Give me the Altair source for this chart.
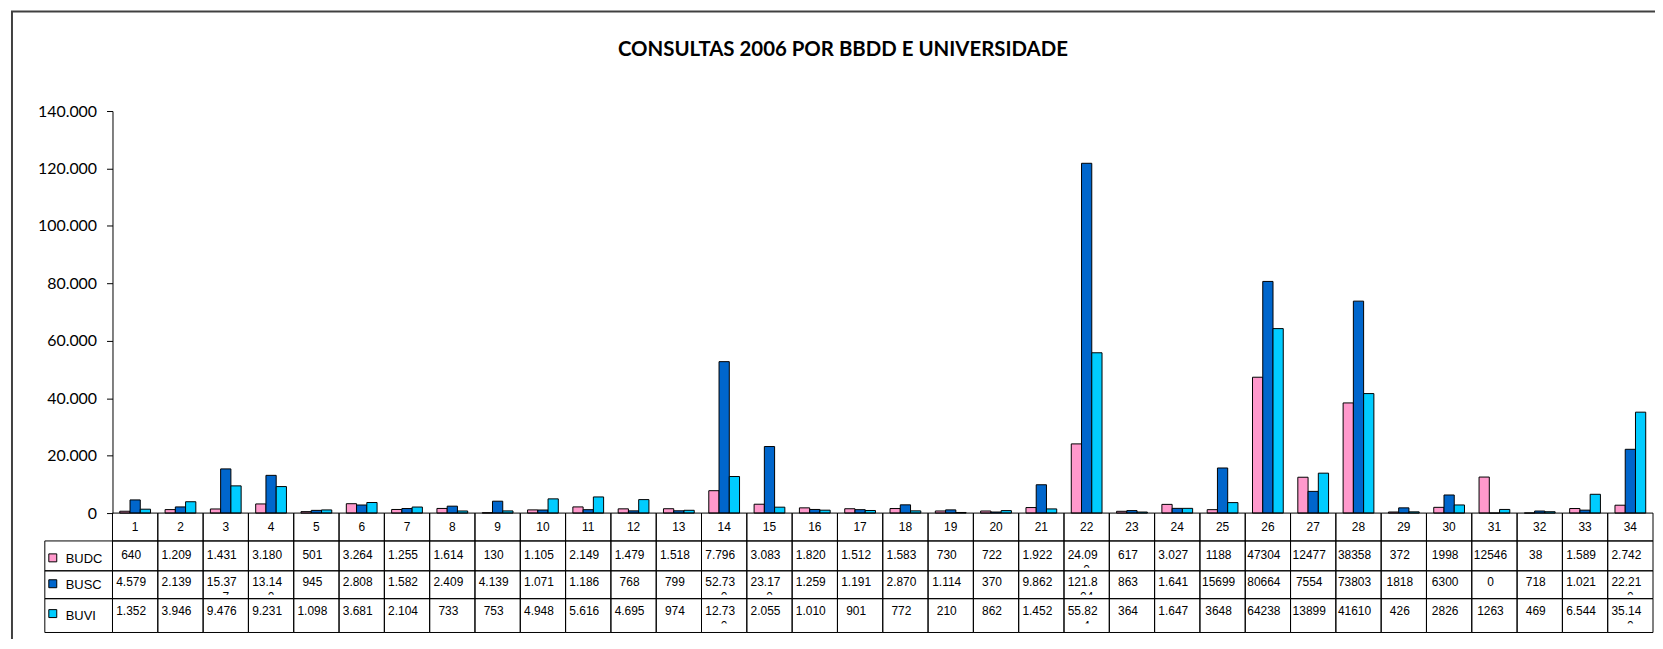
import altair as alt
import pandas as pd

# ---------------- data ----------------
categories = list(range(1, 35))
series_names = ["BUDC", "BUSC", "BUVI"]
budc = [640, 1209, 1431, 3180, 501, 3264, 1255, 1614, 130, 1105, 2149, 1479, 1518, 7796,
        3083, 1820, 1512, 1583, 730, 722, 1922, 24090, 617, 3027, 1188, 47304, 12477,
        38358, 372, 1998, 12546, 38, 1589, 2742]
busc = [4579, 2139, 15377, 13140, 945, 2808, 1582, 2409, 4139, 1071, 1186, 768, 799, 52730,
        23170, 1259, 1191, 2870, 1114, 370, 9862, 121804, 863, 1641, 15699, 80664, 7554,
        73803, 1818, 6300, 0, 718, 1021, 22210]
buvi = [1352, 3946, 9476, 9231, 1098, 3681, 2104, 733, 753, 4948, 5616, 4695, 974, 12730,
        2055, 1010, 901, 772, 210, 862, 1452, 55824, 364, 1647, 3648, 64238, 13899,
        41610, 426, 2826, 1263, 469, 6544, 35140]
plain_format_cats = [25, 26, 27, 28, 29, 30, 31]
colors = ["#FF99CC", "#0066CC", "#00CCFF"]
title_text = "CONSULTAS 2006 POR BBDD E UNIVERSIDADE"
y_ticks = [0, 20000, 40000, 60000, 80000, 100000, 120000, 140000]


def fmt(v, cat):
    if cat in plain_format_cats:
        return str(v)
    return f"{v:,}".replace(",", ".")


rows = []
for name, vals in zip(series_names, [budc, busc, buvi]):
    for c, v in zip(categories, vals):
        s = fmt(v, c)
        rows.append(dict(cat=c, series=name, value=v, line1=s[:5], line2=s[5:]))
df = pd.DataFrame(rows)
df_cats = pd.DataFrame({"cat": categories, "label": [str(c) for c in categories]})
df_leg = pd.DataFrame({"series": series_names})
df_one = pd.DataFrame({"k": [0]})

# ---------------- layout ----------------
W, H = 1548, 404
row_edges = {"BUDC": (432, 462), "BUSC": (462, 490), "BUVI": (490, 524)}
text_y = {"BUDC": 446.5, "BUSC": 473, "BUVI": 502}
leg_text_y = {"BUDC": 450, "BUSC": 476.5, "BUVI": 507}
leg_sq_y = {"BUDC": 449, "BUSC": 475, "BUVI": 505}
mask_y = {"BUDC": (459, 467), "BUSC": (486, 494), "BUVI": (515, 523)}
TFONT = "Liberation Sans"

xscale = alt.Scale(paddingInner=0, paddingOuter=0)
X_plain = alt.X("cat:O", sort=categories, scale=xscale, axis=None)

bars = alt.Chart(df).mark_bar(stroke="black", strokeWidth=1).encode(
    x=alt.X("cat:O", sort=categories, scale=xscale,
            axis=alt.Axis(labels=False, ticks=False, title=None, domainColor="black",
                          domainWidth=1, grid=False)),
    xOffset=alt.XOffset("series:N", sort=series_names,
                        scale=alt.Scale(paddingOuter=0.71, paddingInner=0)),
    y=alt.Y("value:Q", scale=alt.Scale(domain=[0, 140000], nice=False),
            axis=alt.Axis(values=y_ticks,
                          labelExpr="replace(format(datum.value, ','), ',', '.')",
                          grid=False, tickSize=6, tickColor="black", domainColor="black",
                          labelFont="Lato", labelFontSize=16, labelColor="black",
                          labelPadding=10, title=None)),
    color=alt.Color("series:N", scale=alt.Scale(domain=series_names, range=colors),
                    legend=None),
)

layers = [bars]

# second (clipped) lines of wrapped cell texts
for s in series_names:
    layers.append(
        alt.Chart(df).transform_filter(alt.datum.series == s).mark_text(
            font=TFONT, fontSize=12, color="black", align="center", baseline="middle"
        ).encode(x=X_plain, y=alt.value(text_y[s] + 15), text="line2:N")
    )

# masks that clip the second lines
for s in series_names:
    y0, y1 = mask_y[s]
    layers.append(
        alt.Chart(df_one).mark_rect(fill="white", stroke=None).encode(
            x=alt.value(0), x2=alt.value(W), y=alt.value(y0), y2=alt.value(y1))
    )

# table grid: category row + data rows
layers.append(
    alt.Chart(df_cats).mark_rect(fill="white", fillOpacity=0, stroke="black", strokeWidth=1)
    .encode(x=X_plain, y=alt.value(H), y2=alt.value(432))
)
for s in series_names:
    y0, y1 = row_edges[s]
    layers.append(
        alt.Chart(df_cats).mark_rect(fill="white", fillOpacity=0, stroke="black", strokeWidth=1)
        .encode(x=X_plain, y=alt.value(y0), y2=alt.value(y1))
    )
    layers.append(
        alt.Chart(df_one).mark_rect(fill="white", fillOpacity=0, stroke="black", strokeWidth=1)
        .encode(x=alt.value(-68), x2=alt.value(0), y=alt.value(y0), y2=alt.value(y1))
    )

# category labels
layers.append(
    alt.Chart(df_cats).mark_text(font=TFONT, fontSize=12, color="black", baseline="middle")
    .encode(x=X_plain, y=alt.value(418), text="label:N")
)

# first lines of cell texts
for s in series_names:
    layers.append(
        alt.Chart(df).transform_filter(alt.datum.series == s).mark_text(
            font=TFONT, fontSize=12, color="black", align="center", baseline="middle", dx=-4
        ).encode(x=X_plain, y=alt.value(text_y[s]), text="line1:N")
    )

# legend keys in table
for s in series_names:
    layers.append(
        alt.Chart(df_leg).transform_filter(alt.datum.series == s).mark_square(
            size=64, filled=True, opacity=1, stroke="black", strokeWidth=1
        ).encode(x=alt.value(-60), y=alt.value(leg_sq_y[s]),
                 color=alt.Color("series:N", legend=None))
    )
    layers.append(
        alt.Chart(df_leg).transform_filter(alt.datum.series == s).mark_text(
            font=TFONT, fontSize=13, color="black", align="left", baseline="middle"
        ).encode(x=alt.value(-47), y=alt.value(leg_text_y[s]), text="series:N")
    )

# title
layers.append(
    alt.Chart(df_one).mark_text(font="Lato", fontWeight="bold", fontSize=20.5, color="black",
                                align="center", baseline="middle", text=title_text)
    .encode(x=alt.value(734), y=alt.value(-61))
)

# outer frame (left and top edges)
layers.append(
    alt.Chart(df_one).mark_rule(color="#404040", strokeWidth=2)
    .encode(x=alt.value(-101), y=alt.value(-100), y2=alt.value(H + 130))
)
layers.append(
    alt.Chart(df_one).mark_rule(color="#404040", strokeWidth=2)
    .encode(x=alt.value(-102), x2=alt.value(W + 10), y=alt.value(-100))
)

chart = alt.layer(*layers).properties(
    width=W, height=H,
    padding={"left": 105, "top": 102, "right": 2, "bottom": 125},
    autosize=alt.AutoSizeParams(type="none"),
    background="white",
).configure_view(stroke=None)

chart.save("out.html", embed_options={"renderer": "svg", "actions": False})
